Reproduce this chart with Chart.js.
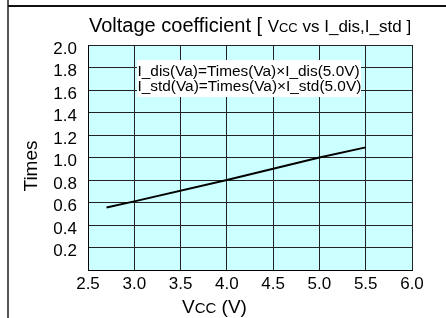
<!DOCTYPE html>
<html><head><meta charset="utf-8">
<script src="https://cdn.jsdelivr.net/npm/chart.js@4"></script>
<style>html,body{margin:0;padding:0;background:#fff;overflow:hidden}canvas{display:block}</style>
</head><body>
<canvas id="c" width="446" height="318"></canvas>
<script>
// ---- data ----
const vccValues   = [2.7, 3.0, 4.0, 5.0, 5.5];
const timesValues = [0.555, 0.61, 0.80, 1.0, 1.09];
const xTickLabels = ['2.5','3.0','3.5','4.0','4.5','5.0','5.5','6.0'];
const yTickLabels = ['0.2','0.4','0.6','0.8','1.0','1.2','1.4','1.6','1.8','2.0'];
const noteLines   = ['I_dis(Va)=Times(Va)×I_dis(5.0V)', 'I_std(Va)=Times(Va)×I_std(5.0V)'];

const FAM = '"Liberation Sans", Arial, sans-serif';

function pickLabel(list, v) {
  const hit = list.find(l => Math.abs(parseFloat(l) - v) < 1e-6);
  return hit === undefined ? '' : hit;
}
function drawRuns(ctx, runs, x, y) {
  ctx.textBaseline = 'alphabetic';
  ctx.textAlign = 'left';
  for (const r of runs) {
    ctx.font = r.s + 'px ' + FAM;
    ctx.fillText(r.t, x, y);
    x += ctx.measureText(r.t).width;
  }
}

const decor = {
  id: 'decor',
  beforeDraw(chart) {
    const {ctx, chartArea: a} = chart;
    ctx.save();
    ctx.fillStyle = '#fff';
    ctx.fillRect(0, 0, chart.width, chart.height);
    ctx.fillStyle = '#ccffff';
    ctx.fillRect(a.left, a.top, a.right - a.left, a.bottom - a.top);
    ctx.lineWidth = 2;
    ctx.strokeStyle = '#555';
    ctx.beginPath(); ctx.moveTo(8, 0); ctx.lineTo(8, chart.height); ctx.stroke();
    ctx.strokeStyle = '#111';
    ctx.beginPath(); ctx.moveTo(8, 6); ctx.lineTo(chart.width, 6); ctx.stroke();
    ctx.restore();
  },
  afterDraw(chart) {
    const ctx = chart.ctx;
    ctx.save();
    ctx.fillStyle = '#000';
    // title
    drawRuns(ctx, [
      {t: 'Voltage coefficient [ ', s: 20},
      {t: 'V', s: 17}, {t: 'CC', s: 13},
      {t: ' vs I_dis,I_std ]', s: 17}
    ], 89, 32);
    // x axis title
    drawRuns(ctx, [{t: 'V', s: 19}, {t: 'CC', s: 15}, {t: ' (V)', s: 19}], 182, 313);
    // y axis title
    ctx.save();
    ctx.translate(37, 166);
    ctx.rotate(-Math.PI / 2);
    ctx.font = '19px ' + FAM;
    ctx.textAlign = 'center';
    ctx.textBaseline = 'alphabetic';
    ctx.fillText('Times', 0, 0);
    ctx.restore();
    // note box
    ctx.fillStyle = '#fff';
    ctx.fillRect(137, 60, 224, 37);
    ctx.fillStyle = '#000';
    ctx.font = '15.4px ' + FAM;
    ctx.textAlign = 'left';
    ctx.textBaseline = 'alphabetic';
    ctx.fillText(noteLines[0], 137.5, 76);
    ctx.fillText(noteLines[1], 137.5, 91);
    ctx.restore();
  }
};

new Chart(document.getElementById('c'), {
  type: 'line',
  data: {
    datasets: [{
      data: vccValues.map((x, i) => ({x, y: timesValues[i]})),
      borderColor: '#000', borderWidth: 2, pointRadius: 0, fill: false, tension: 0
    }]
  },
  options: {
    responsive: false, animation: false, devicePixelRatio: 1,
    layout: {padding: {top: 45, right: 34, left: 0, bottom: 0}},
    plugins: {legend: {display: false}, title: {display: false}, tooltip: {enabled: false}},
    scales: {
      x: {
        type: 'linear', min: 2.5, max: 6.0,
        ticks: {stepSize: 0.5, callback: v => pickLabel(xTickLabels, v), color: '#000',
                font: {size: 17, family: FAM}, padding: 4, maxRotation: 0, autoSkip: false},
        grid: {color: '#222', lineWidth: 1, drawTicks: false},
        border: {color: '#000', width: 1},
        afterFit(s) { s.height = 48; }
      },
      y: {
        type: 'linear', min: 0, max: 2.0,
        ticks: {stepSize: 0.2, callback: v => pickLabel(yTickLabels, v), color: '#000',
                font: {size: 17, family: FAM}, padding: 11, autoSkip: false, labelOffset: 4},
        grid: {color: '#222', lineWidth: 1, drawTicks: false},
        border: {color: '#000', width: 1},
        afterFit(s) { s.width = 88; }
      }
    }
  },
  plugins: [decor]
});
</script>
</body></html>
